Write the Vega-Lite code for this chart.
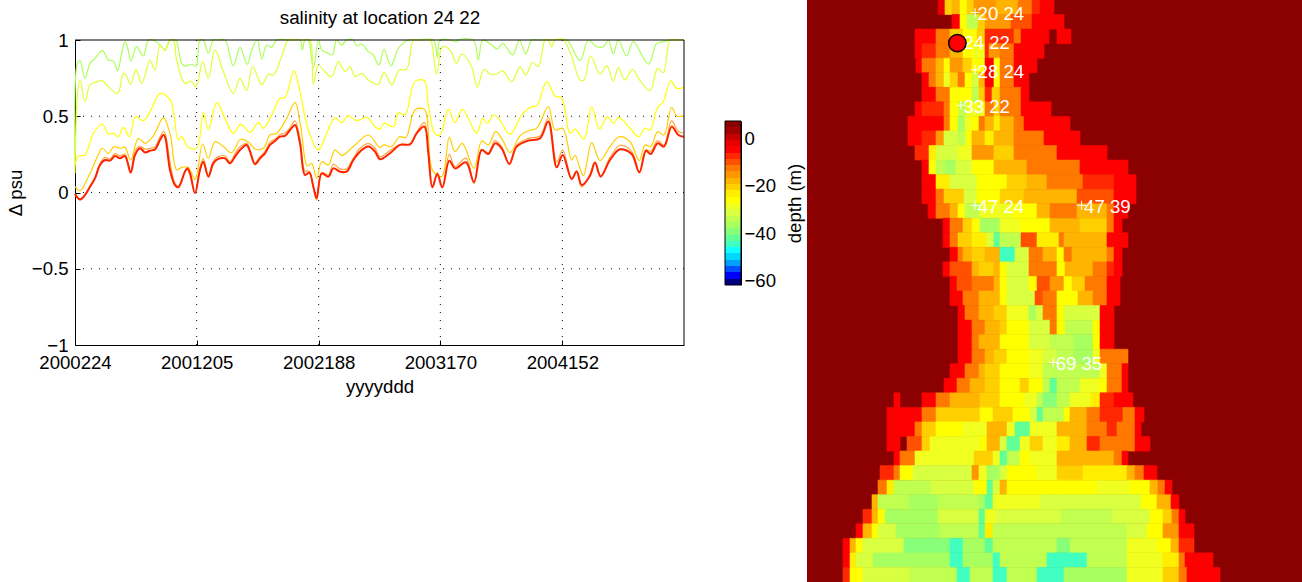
{"$schema":"https://vega.github.io/schema/vega-lite/v6.json","width":1302,"height":582,"padding":0,"autosize":"none","background":"white","view":{"stroke":null},
"config":{"font":"Liberation Sans","axis":{"labelFont":"Liberation Sans","titleFont":"Liberation Sans","labelFontSize":18.6,"titleFontSize":18.6,"titleFontWeight":"normal","labelColor":"black","titleColor":"black","domainColor":"black","tickColor":"black","grid":false},"title":{"font":"Liberation Sans"}},
"title":{"text":"salinity at location 24 22","anchor":"middle","frame":"group","dx":-271,"dy":32,"fontSize":18.8,"fontWeight":"normal","color":"black"},
"resolve":{"scale":{"x":"independent","y":"independent"},"axis":{"x":"independent","y":"independent"}},
"datasets":{
"grid":[{"t":365,"v":-1,"v2":1},{"t":731,"v":-1,"v2":1},{"t":1096,"v":-1,"v2":1},{"t":1462,"v":-1,"v2":1},{"t":0,"t2":1827,"v":0.5},{"t":0,"t2":1827,"v":0},{"t":0,"t2":1827,"v":-0.5}],
"frame":[{"t":0,"t2":1827,"v":1},{"t":1827,"v":-1,"v2":1}],
"L1":[{"t":0,"v":0.191},{"t":7,"v":0.847},{"t":15,"v":0.865},{"t":30,"v":0.749},{"t":45,"v":0.847},{"t":60,"v":0.88},{"t":82,"v":0.93},{"t":100,"v":0.869},{"t":115,"v":0.862},{"t":128,"v":0.799},{"t":140,"v":0.913},{"t":150,"v":0.989},{"t":157,"v":0.956},{"t":168,"v":0.862},{"t":185,"v":0.956},{"t":205,"v":0.895},{"t":220,"v":1},{"t":235,"v":1.04},{"t":255,"v":0.967},{"t":270,"v":0.935},{"t":285,"v":1.01},{"t":295,"v":1.01},{"t":303,"v":1},{"t":320,"v":0.847},{"t":330,"v":0.83},{"t":350,"v":0.841},{"t":363,"v":0.83},{"t":375,"v":1},{"t":385,"v":1.02},{"t":400,"v":0.913},{"t":415,"v":1},{"t":430,"v":1.03},{"t":450,"v":1},{"t":475,"v":0.83},{"t":495,"v":0.952},{"t":517,"v":0.841},{"t":530,"v":0.935},{"t":547,"v":1},{"t":560,"v":0.874},{"t":575,"v":0.967},{"t":590,"v":0.952},{"t":605,"v":1.01},{"t":640,"v":1.04},{"t":675,"v":1},{"t":682,"v":0.935},{"t":690,"v":1},{"t":700,"v":1},{"t":715,"v":0.814},{"t":730,"v":1},{"t":740,"v":0.935},{"t":757,"v":0.917},{"t":772,"v":0.902},{"t":785,"v":1},{"t":800,"v":0.967},{"t":815,"v":1},{"t":835,"v":1},{"t":845,"v":0.961},{"t":860,"v":0.974},{"t":880,"v":0.924},{"t":895,"v":0.902},{"t":910,"v":0.836},{"t":915,"v":0.847},{"t":927,"v":0.939},{"t":948,"v":0.83},{"t":970,"v":0.945},{"t":1000,"v":1},{"t":1030,"v":1.04},{"t":1075,"v":1},{"t":1087,"v":0.887},{"t":1095,"v":1},{"t":1125,"v":1.03},{"t":1145,"v":0.989},{"t":1150,"v":1},{"t":1195,"v":1},{"t":1210,"v":0.869},{"t":1223,"v":1},{"t":1250,"v":0.967},{"t":1267,"v":0.941},{"t":1283,"v":0.978},{"t":1313,"v":0.902},{"t":1333,"v":1},{"t":1352,"v":0.908},{"t":1370,"v":1},{"t":1385,"v":1},{"t":1410,"v":1.03},{"t":1430,"v":1.03},{"t":1475,"v":1},{"t":1515,"v":0.865},{"t":1540,"v":1},{"t":1565,"v":0.956},{"t":1585,"v":0.956},{"t":1600,"v":1},{"t":1615,"v":0.908},{"t":1630,"v":1},{"t":1655,"v":0.895},{"t":1675,"v":0.989},{"t":1720,"v":0.841},{"t":1745,"v":0.978},{"t":1765,"v":0.989},{"t":1785,"v":1.04},{"t":1827,"v":1.04}],
"L2":[{"t":0,"v":0.126},{"t":7,"v":0.628},{"t":15,"v":0.738},{"t":30,"v":0.596},{"t":45,"v":0.705},{"t":60,"v":0.722},{"t":82,"v":0.733},{"t":100,"v":0.694},{"t":128,"v":0.65},{"t":145,"v":0.781},{"t":153,"v":0.77},{"t":167,"v":0.709},{"t":183,"v":0.808},{"t":200,"v":0.716},{"t":225,"v":0.865},{"t":240,"v":0.803},{"t":255,"v":0.967},{"t":270,"v":0.93},{"t":285,"v":1.02},{"t":295,"v":1.02},{"t":305,"v":0.869},{"t":330,"v":0.716},{"t":347,"v":0.731},{"t":363,"v":0.694},{"t":383,"v":0.858},{"t":400,"v":0.749},{"t":420,"v":0.935},{"t":445,"v":0.793},{"t":475,"v":0.65},{"t":495,"v":0.749},{"t":515,"v":0.668},{"t":533,"v":0.825},{"t":560,"v":0.709},{"t":580,"v":0.775},{"t":595,"v":0.77},{"t":620,"v":0.891},{"t":640,"v":1},{"t":660,"v":1.04},{"t":690,"v":1.03},{"t":705,"v":1},{"t":715,"v":0.709},{"t":730,"v":0.836},{"t":745,"v":0.803},{"t":770,"v":0.76},{"t":790,"v":0.858},{"t":810,"v":0.793},{"t":825,"v":0.825},{"t":840,"v":0.76},{"t":860,"v":0.781},{"t":880,"v":0.738},{"t":910,"v":0.709},{"t":915,"v":0.727},{"t":928,"v":0.788},{"t":950,"v":0.705},{"t":973,"v":0.803},{"t":995,"v":0.808},{"t":1015,"v":1},{"t":1030,"v":1.04},{"t":1060,"v":1.04},{"t":1067,"v":1},{"t":1085,"v":0.775},{"t":1102,"v":0.956},{"t":1125,"v":0.935},{"t":1145,"v":0.847},{"t":1160,"v":0.908},{"t":1190,"v":0.825},{"t":1207,"v":0.69},{"t":1227,"v":0.808},{"t":1245,"v":0.777},{"t":1265,"v":0.777},{"t":1283,"v":0.797},{"t":1310,"v":0.727},{"t":1335,"v":0.825},{"t":1352,"v":0.77},{"t":1373,"v":0.854},{"t":1390,"v":0.825},{"t":1410,"v":1},{"t":1420,"v":1},{"t":1430,"v":0.956},{"t":1440,"v":1},{"t":1465,"v":1},{"t":1490,"v":0.891},{"t":1515,"v":0.738},{"t":1527,"v":0.738},{"t":1547,"v":0.895},{"t":1575,"v":0.775},{"t":1595,"v":0.83},{"t":1615,"v":0.731},{"t":1630,"v":0.819},{"t":1650,"v":0.738},{"t":1672,"v":0.808},{"t":1695,"v":0.733},{"t":1725,"v":0.668},{"t":1748,"v":0.814},{"t":1765,"v":0.786},{"t":1785,"v":1},{"t":1800,"v":1.04},{"t":1827,"v":1.04}],
"L3":[{"t":0,"v":0.18},{"t":10,"v":0.239},{"t":30,"v":0.246},{"t":55,"v":0.388},{"t":82,"v":0.449},{"t":100,"v":0.384},{"t":115,"v":0.388},{"t":130,"v":0.366},{"t":145,"v":0.427},{"t":163,"v":0.366},{"t":182,"v":0.497},{"t":205,"v":0.471},{"t":230,"v":0.552},{"t":255,"v":0.65},{"t":285,"v":0.611},{"t":310,"v":0.344},{"t":320,"v":0.366},{"t":340,"v":0.296},{"t":365,"v":0.29},{"t":385,"v":0.524},{"t":400,"v":0.41},{"t":425,"v":0.589},{"t":450,"v":0.486},{"t":475,"v":0.388},{"t":497,"v":0.447},{"t":525,"v":0.395},{"t":550,"v":0.458},{"t":565,"v":0.421},{"t":590,"v":0.508},{"t":615,"v":0.618},{"t":630,"v":0.622},{"t":657,"v":0.797},{"t":675,"v":0.661},{"t":700,"v":0.41},{"t":730,"v":0.279},{"t":755,"v":0.388},{"t":780,"v":0.491},{"t":800,"v":0.458},{"t":820,"v":0.502},{"t":845,"v":0.471},{"t":875,"v":0.493},{"t":900,"v":0.432},{"t":915,"v":0.416},{"t":927,"v":0.454},{"t":955,"v":0.432},{"t":970,"v":0.524},{"t":990,"v":0.508},{"t":1020,"v":0.727},{"t":1048,"v":0.733},{"t":1060,"v":0.574},{"t":1080,"v":0.384},{"t":1095,"v":0.377},{"t":1120,"v":0.545},{"t":1140,"v":0.458},{"t":1162,"v":0.545},{"t":1205,"v":0.388},{"t":1223,"v":0.486},{"t":1237,"v":0.454},{"t":1255,"v":0.508},{"t":1273,"v":0.48},{"t":1305,"v":0.381},{"t":1340,"v":0.508},{"t":1370,"v":0.563},{"t":1385,"v":0.567},{"t":1415,"v":0.727},{"t":1440,"v":0.633},{"t":1460,"v":0.618},{"t":1485,"v":0.388},{"t":1500,"v":0.416},{"t":1527,"v":0.351},{"t":1550,"v":0.563},{"t":1573,"v":0.416},{"t":1597,"v":0.497},{"t":1615,"v":0.454},{"t":1632,"v":0.493},{"t":1665,"v":0.421},{"t":1690,"v":0.366},{"t":1710,"v":0.421},{"t":1725,"v":0.41},{"t":1748,"v":0.559},{"t":1765,"v":0.596},{"t":1787,"v":0.733},{"t":1805,"v":0.683},{"t":1827,"v":0.69}],
"L4":[{"t":0,"v":0.038},{"t":15,"v":0.012},{"t":45,"v":0.126},{"t":65,"v":0.224},{"t":82,"v":0.29},{"t":100,"v":0.257},{"t":117,"v":0.301},{"t":135,"v":0.29},{"t":150,"v":0.296},{"t":167,"v":0.213},{"t":190,"v":0.355},{"t":210,"v":0.322},{"t":235,"v":0.371},{"t":265,"v":0.489},{"t":285,"v":0.388},{"t":305,"v":0.148},{"t":320,"v":0.165},{"t":340,"v":0.165},{"t":360,"v":0.086},{"t":383,"v":0.318},{"t":400,"v":0.224},{"t":420,"v":0.333},{"t":445,"v":0.301},{"t":470,"v":0.261},{"t":497,"v":0.349},{"t":525,"v":0.322},{"t":540,"v":0.285},{"t":565,"v":0.29},{"t":585,"v":0.377},{"t":605,"v":0.388},{"t":635,"v":0.486},{"t":660,"v":0.591},{"t":677,"v":0.432},{"t":697,"v":0.174},{"t":710,"v":0.191},{"t":725,"v":0.093},{"t":740,"v":0.202},{"t":760,"v":0.18},{"t":780,"v":0.279},{"t":800,"v":0.244},{"t":835,"v":0.301},{"t":880,"v":0.377},{"t":915,"v":0.296},{"t":927,"v":0.312},{"t":950,"v":0.301},{"t":973,"v":0.366},{"t":993,"v":0.362},{"t":1020,"v":0.541},{"t":1048,"v":0.545},{"t":1072,"v":0.148},{"t":1100,"v":0.104},{"t":1123,"v":0.362},{"t":1140,"v":0.268},{"t":1162,"v":0.322},{"t":1197,"v":0.158},{"t":1220,"v":0.338},{"t":1240,"v":0.312},{"t":1262,"v":0.399},{"t":1283,"v":0.344},{"t":1305,"v":0.261},{"t":1335,"v":0.371},{"t":1360,"v":0.405},{"t":1385,"v":0.421},{"t":1420,"v":0.563},{"t":1440,"v":0.41},{"t":1463,"v":0.421},{"t":1490,"v":0.213},{"t":1500,"v":0.246},{"t":1525,"v":0.11},{"t":1550,"v":0.327},{"t":1575,"v":0.209},{"t":1605,"v":0.301},{"t":1633,"v":0.366},{"t":1665,"v":0.333},{"t":1693,"v":0.209},{"t":1710,"v":0.312},{"t":1727,"v":0.301},{"t":1748,"v":0.399},{"t":1767,"v":0.377},{"t":1790,"v":0.559},{"t":1805,"v":0.502},{"t":1827,"v":0.502}],
"L5":[{"t":0,"v":-0.012},{"t":15,"v":-0.05},{"t":30,"v":-0.02},{"t":45,"v":0.04},{"t":60,"v":0.1},{"t":75,"v":0.19},{"t":90,"v":0.23},{"t":105,"v":0.22},{"t":120,"v":0.255},{"t":135,"v":0.24},{"t":150,"v":0.252},{"t":167,"v":0.135},{"t":180,"v":0.27},{"t":195,"v":0.305},{"t":210,"v":0.285},{"t":225,"v":0.29},{"t":240,"v":0.3},{"t":255,"v":0.365},{"t":265,"v":0.4},{"t":270,"v":0.39},{"t":285,"v":0.2},{"t":300,"v":0.06},{"t":310,"v":0.04},{"t":330,"v":0.14},{"t":337,"v":0.165},{"t":345,"v":0.13},{"t":360,"v":-0.005},{"t":375,"v":0.165},{"t":385,"v":0.22},{"t":400,"v":0.11},{"t":415,"v":0.205},{"t":430,"v":0.235},{"t":450,"v":0.24},{"t":465,"v":0.2},{"t":480,"v":0.255},{"t":495,"v":0.3},{"t":515,"v":0.322},{"t":525,"v":0.28},{"t":540,"v":0.195},{"t":555,"v":0.235},{"t":570,"v":0.27},{"t":585,"v":0.33},{"t":600,"v":0.35},{"t":615,"v":0.38},{"t":630,"v":0.39},{"t":645,"v":0.425},{"t":660,"v":0.47},{"t":675,"v":0.35},{"t":690,"v":0.14},{"t":703,"v":0.14},{"t":715,"v":0.03},{"t":725,"v":-0.05},{"t":740,"v":0.13},{"t":760,"v":0.115},{"t":775,"v":0.185},{"t":795,"v":0.155},{"t":815,"v":0.155},{"t":835,"v":0.225},{"t":855,"v":0.29},{"t":880,"v":0.32},{"t":900,"v":0.29},{"t":915,"v":0.235},{"t":945,"v":0.275},{"t":975,"v":0.315},{"t":1005,"v":0.32},{"t":1025,"v":0.395},{"t":1048,"v":0.46},{"t":1060,"v":0.29},{"t":1072,"v":0.04},{"t":1087,"v":0.13},{"t":1102,"v":0.03},{"t":1123,"v":0.25},{"t":1140,"v":0.17},{"t":1173,"v":0.225},{"t":1197,"v":0.06},{"t":1220,"v":0.28},{"t":1240,"v":0.26},{"t":1260,"v":0.34},{"t":1280,"v":0.3},{"t":1303,"v":0.19},{"t":1325,"v":0.31},{"t":1360,"v":0.355},{"t":1395,"v":0.37},{"t":1420,"v":0.49},{"t":1445,"v":0.2},{"t":1463,"v":0.28},{"t":1490,"v":0.09},{"t":1505,"v":0.14},{"t":1520,"v":0.035},{"t":1545,"v":0.12},{"t":1560,"v":0.2},{"t":1577,"v":0.11},{"t":1605,"v":0.23},{"t":1635,"v":0.31},{"t":1670,"v":0.27},{"t":1693,"v":0.13},{"t":1713,"v":0.28},{"t":1727,"v":0.27},{"t":1748,"v":0.34},{"t":1767,"v":0.31},{"t":1790,"v":0.47},{"t":1810,"v":0.4},{"t":1827,"v":0.39}],
"L7":[{"t":0,"v":-0.01},{"t":15,"v":-0.045},{"t":30,"v":-0.016},{"t":45,"v":0.038},{"t":60,"v":0.093},{"t":75,"v":0.18},{"t":90,"v":0.213},{"t":105,"v":0.209},{"t":120,"v":0.239},{"t":135,"v":0.224},{"t":150,"v":0.239},{"t":167,"v":0.13},{"t":180,"v":0.246},{"t":195,"v":0.29},{"t":210,"v":0.263},{"t":225,"v":0.274},{"t":240,"v":0.283},{"t":255,"v":0.344},{"t":265,"v":0.377},{"t":270,"v":0.366},{"t":285,"v":0.148},{"t":300,"v":0.049},{"t":310,"v":0.034},{"t":330,"v":0.137},{"t":337,"v":0.158},{"t":345,"v":0.126},{"t":360,"v":-0.005},{"t":375,"v":0.148},{"t":385,"v":0.202},{"t":400,"v":0.104},{"t":415,"v":0.191},{"t":430,"v":0.22},{"t":450,"v":0.224},{"t":465,"v":0.191},{"t":480,"v":0.235},{"t":495,"v":0.279},{"t":515,"v":0.312},{"t":525,"v":0.268},{"t":540,"v":0.185},{"t":555,"v":0.224},{"t":570,"v":0.257},{"t":585,"v":0.312},{"t":600,"v":0.338},{"t":615,"v":0.366},{"t":630,"v":0.371},{"t":645,"v":0.41},{"t":660,"v":0.443},{"t":675,"v":0.322},{"t":690,"v":0.115},{"t":703,"v":0.13},{"t":715,"v":0.038},{"t":725,"v":-0.038},{"t":740,"v":0.126},{"t":760,"v":0.104},{"t":775,"v":0.158},{"t":795,"v":0.137},{"t":815,"v":0.137},{"t":835,"v":0.213},{"t":855,"v":0.268},{"t":880,"v":0.301},{"t":900,"v":0.268},{"t":915,"v":0.218},{"t":945,"v":0.257},{"t":975,"v":0.312},{"t":1005,"v":0.316},{"t":1025,"v":0.388},{"t":1048,"v":0.432},{"t":1060,"v":0.257},{"t":1072,"v":0.034},{"t":1087,"v":0.121},{"t":1102,"v":0.034},{"t":1123,"v":0.209},{"t":1140,"v":0.158},{"t":1173,"v":0.198},{"t":1197,"v":0.067},{"t":1220,"v":0.279},{"t":1240,"v":0.252},{"t":1260,"v":0.322},{"t":1280,"v":0.29},{"t":1303,"v":0.187},{"t":1325,"v":0.301},{"t":1360,"v":0.34},{"t":1395,"v":0.355},{"t":1420,"v":0.465},{"t":1445,"v":0.165},{"t":1463,"v":0.246},{"t":1490,"v":0.089},{"t":1505,"v":0.137},{"t":1520,"v":0.049},{"t":1545,"v":0.11},{"t":1560,"v":0.196},{"t":1577,"v":0.104},{"t":1605,"v":0.213},{"t":1635,"v":0.283},{"t":1670,"v":0.252},{"t":1693,"v":0.132},{"t":1713,"v":0.274},{"t":1727,"v":0.252},{"t":1748,"v":0.322},{"t":1767,"v":0.301},{"t":1790,"v":0.432},{"t":1810,"v":0.377},{"t":1827,"v":0.366}],
"bar":[{"a":0,"b":1,"d0":-62,"d1":-59.35,"d":-60.7},{"a":0,"b":1,"d0":-59.35,"d1":-56.69,"d":-58},{"a":0,"b":1,"d0":-56.69,"d1":-54.04,"d":-55.4},{"a":0,"b":1,"d0":-54.04,"d1":-51.38,"d":-52.7},{"a":0,"b":1,"d0":-51.38,"d1":-48.73,"d":-50},{"a":0,"b":1,"d0":-48.73,"d1":-46.08,"d":-47.4},{"a":0,"b":1,"d0":-46.08,"d1":-43.42,"d":-44.8},{"a":0,"b":1,"d0":-43.42,"d1":-40.77,"d":-42.1},{"a":0,"b":1,"d0":-40.77,"d1":-38.12,"d":-39.4},{"a":0,"b":1,"d0":-38.12,"d1":-35.46,"d":-36.8},{"a":0,"b":1,"d0":-35.46,"d1":-32.81,"d":-34.1},{"a":0,"b":1,"d0":-32.81,"d1":-30.15,"d":-31.5},{"a":0,"b":1,"d0":-30.15,"d1":-27.5,"d":-28.8},{"a":0,"b":1,"d0":-27.5,"d1":-24.85,"d":-26.2},{"a":0,"b":1,"d0":-24.85,"d1":-22.19,"d":-23.5},{"a":0,"b":1,"d0":-22.19,"d1":-19.54,"d":-20.9},{"a":0,"b":1,"d0":-19.54,"d1":-16.88,"d":-18.2},{"a":0,"b":1,"d0":-16.88,"d1":-14.23,"d":-15.6},{"a":0,"b":1,"d0":-14.23,"d1":-11.58,"d":-12.9},{"a":0,"b":1,"d0":-11.58,"d1":-8.92,"d":-10.2},{"a":0,"b":1,"d0":-8.92,"d1":-6.27,"d":-7.6},{"a":0,"b":1,"d0":-6.27,"d1":-3.62,"d":-4.9},{"a":0,"b":1,"d0":-3.62,"d1":-0.96,"d":-2.3},{"a":0,"b":1,"d0":-0.96,"d1":1.69,"d":0.4},{"a":0,"b":1,"d0":1.69,"d1":4.35,"d":3},{"a":0,"b":1,"d0":4.35,"d1":7,"d":5.7}],
"barframe":[{"a":0,"b":1,"d0":-62,"d1":7}],
"labels":[{"i":20,"j":24,"label":"20 24"},{"i":24,"j":22,"label":"24 22"},{"i":28,"j":24,"label":"28 24"},{"i":33,"j":22,"label":"33 22"},{"i":47,"j":24,"label":"47 24"},{"i":47,"j":39,"label":"47 39"},{"i":69,"j":35,"label":"69 35"}],
"site":[{"i":24.3,"j":21.5}],
"land":[{"a":0,"b":68.08,"d":5.7}],
"cells":[
{"r":0,"a":18,"b":19,"d":-3},{"r":0,"a":19,"b":20,"d":-21},{"r":0,"a":20,"b":21,"d":-18},{"r":0,"a":21,"b":22,"d":-26},{"r":0,"a":22,"b":23,"d":-21},{"r":0,"a":23,"b":26,"d":-16},{"r":0,"a":26,"b":29,"d":-18},{"r":0,"a":29,"b":31,"d":-13},{"r":0,"a":31,"b":32,"d":-8},{"r":0,"a":32,"b":34,"d":-4},
{"r":1,"a":20,"b":21,"d":-4},{"r":1,"a":21,"b":22,"d":-26},{"r":1,"a":22,"b":23.5,"d":-33},{"r":1,"a":23.5,"b":24.5,"d":-21},{"r":1,"a":24.5,"b":28,"d":-15},{"r":1,"a":28,"b":31,"d":-10},{"r":1,"a":31,"b":35.3,"d":-5},
{"r":2,"a":14.8,"b":17.8,"d":-5},{"r":2,"a":17.8,"b":19.7,"d":-12},{"r":2,"a":19.7,"b":21.5,"d":-21},{"r":2,"a":21.5,"b":23.4,"d":-26},{"r":2,"a":23.4,"b":24.5,"d":-21},{"r":2,"a":24.5,"b":28.5,"d":-8},{"r":2,"a":28.5,"b":29.5,"d":-12},{"r":2,"a":29.5,"b":33.3,"d":-6},{"r":2,"a":34.4,"b":36.3,"d":-5},
{"r":3,"a":14.8,"b":15.8,"d":-5},{"r":3,"a":15.8,"b":17.8,"d":-8},{"r":3,"a":17.8,"b":19.7,"d":-13},{"r":3,"a":19.7,"b":21.5,"d":-19},{"r":3,"a":21.5,"b":23,"d":-26},{"r":3,"a":23,"b":24.5,"d":-29},{"r":3,"a":24.5,"b":25,"d":-8},{"r":3,"a":25,"b":26.5,"d":-15},{"r":3,"a":26.5,"b":28.5,"d":-13},{"r":3,"a":28.5,"b":32.6,"d":-6},
{"r":4,"a":15,"b":15.8,"d":-5},{"r":4,"a":15.8,"b":17.8,"d":-13},{"r":4,"a":17.8,"b":18.8,"d":-19},{"r":4,"a":18.8,"b":19.7,"d":-26},{"r":4,"a":19.7,"b":21.5,"d":-16},{"r":4,"a":21.5,"b":22.7,"d":-21},{"r":4,"a":22.7,"b":24.5,"d":-27},{"r":4,"a":24.5,"b":25.7,"d":-6},{"r":4,"a":25.7,"b":26.6,"d":-26},{"r":4,"a":26.6,"b":28.5,"d":-14},{"r":4,"a":28.5,"b":31.6,"d":-6},
{"r":5,"a":15.8,"b":16.8,"d":-5},{"r":5,"a":16.8,"b":17.8,"d":-12},{"r":5,"a":17.8,"b":18.8,"d":-17},{"r":5,"a":18.8,"b":19.7,"d":-30},{"r":5,"a":19.7,"b":20.7,"d":-21},{"r":5,"a":20.7,"b":21.7,"d":-14},{"r":5,"a":21.7,"b":22.7,"d":-26},{"r":5,"a":22.7,"b":23.6,"d":-31},{"r":5,"a":23.6,"b":24.5,"d":-19},{"r":5,"a":24.5,"b":25.7,"d":-6},{"r":5,"a":25.7,"b":26.6,"d":-26},{"r":5,"a":26.6,"b":28.5,"d":-13},{"r":5,"a":28.5,"b":30.5,"d":-6},
{"r":6,"a":15.8,"b":17.8,"d":-5},{"r":6,"a":17.8,"b":19.7,"d":-13},{"r":6,"a":19.7,"b":22.7,"d":-26},{"r":6,"a":22.7,"b":23.6,"d":-33},{"r":6,"a":23.6,"b":24.5,"d":-20},{"r":6,"a":24.5,"b":25.5,"d":-8},{"r":6,"a":25.5,"b":26.6,"d":-21},{"r":6,"a":26.6,"b":29.4,"d":-13},{"r":6,"a":29.4,"b":30.5,"d":-6},
{"r":7,"a":14.8,"b":15.8,"d":-4},{"r":7,"a":15.8,"b":18.8,"d":-7},{"r":7,"a":18.8,"b":19.7,"d":-12},{"r":7,"a":19.7,"b":20.9,"d":-27},{"r":7,"a":20.9,"b":21.8,"d":-35},{"r":7,"a":21.8,"b":24.5,"d":-28},{"r":7,"a":24.5,"b":25.7,"d":-13},{"r":7,"a":25.7,"b":26.6,"d":-22},{"r":7,"a":26.6,"b":29.4,"d":-13},{"r":7,"a":29.4,"b":33.5,"d":-5},
{"r":8,"a":13.9,"b":18.8,"d":-5},{"r":8,"a":18.8,"b":19.7,"d":-12},{"r":8,"a":19.7,"b":20.7,"d":-27},{"r":8,"a":20.7,"b":21.7,"d":-37},{"r":8,"a":21.7,"b":22.7,"d":-30},{"r":8,"a":22.7,"b":23.6,"d":-26},{"r":8,"a":23.6,"b":24.5,"d":-14},{"r":8,"a":24.5,"b":25.7,"d":-19},{"r":8,"a":25.7,"b":26.6,"d":-24},{"r":8,"a":26.6,"b":28.5,"d":-18},{"r":8,"a":28.5,"b":29.8,"d":-12},{"r":8,"a":29.8,"b":36.2,"d":-5},
{"r":9,"a":13.9,"b":15.8,"d":-5},{"r":9,"a":15.8,"b":17.8,"d":-8},{"r":9,"a":17.8,"b":18.8,"d":-16},{"r":9,"a":18.8,"b":20.7,"d":-31},{"r":9,"a":20.7,"b":21.8,"d":-35},{"r":9,"a":21.8,"b":22.7,"d":-27},{"r":9,"a":22.7,"b":24.5,"d":-19},{"r":9,"a":24.5,"b":25.7,"d":-23},{"r":9,"a":25.7,"b":28.5,"d":-18},{"r":9,"a":28.5,"b":32.6,"d":-13},{"r":9,"a":32.6,"b":37.6,"d":-5},
{"r":10,"a":14.8,"b":16.8,"d":-7},{"r":10,"a":16.8,"b":17.8,"d":-24},{"r":10,"a":17.8,"b":20.7,"d":-32},{"r":10,"a":20.7,"b":22.7,"d":-30},{"r":10,"a":22.7,"b":25.7,"d":-15},{"r":10,"a":25.7,"b":28.5,"d":-20},{"r":10,"a":28.5,"b":34.4,"d":-13},{"r":10,"a":34.4,"b":41.3,"d":-5},
{"r":11,"a":15.8,"b":16.8,"d":-5},{"r":11,"a":16.8,"b":17.8,"d":-25},{"r":11,"a":17.8,"b":19,"d":-33},{"r":11,"a":19,"b":20.5,"d":-36},{"r":11,"a":20.5,"b":22.7,"d":-32},{"r":11,"a":22.7,"b":25.7,"d":-26},{"r":11,"a":25.7,"b":30.3,"d":-19},{"r":11,"a":30.3,"b":37.6,"d":-13},{"r":11,"a":37.6,"b":44.2,"d":-6},
{"r":12,"a":15.8,"b":17.8,"d":-5},{"r":12,"a":17.8,"b":19.7,"d":-24},{"r":12,"a":19.7,"b":23.4,"d":-32},{"r":12,"a":23.4,"b":27.5,"d":-26},{"r":12,"a":27.5,"b":30.3,"d":-21},{"r":12,"a":30.3,"b":33,"d":-18},{"r":12,"a":33,"b":38,"d":-12},{"r":12,"a":38,"b":42.2,"d":-7},{"r":12,"a":42.2,"b":45.2,"d":-5},
{"r":13,"a":15.8,"b":17.8,"d":-5},{"r":13,"a":17.8,"b":18.8,"d":-14},{"r":13,"a":18.8,"b":21.6,"d":-20},{"r":13,"a":21.6,"b":23.4,"d":-32},{"r":13,"a":23.4,"b":26.6,"d":-27},{"r":13,"a":26.6,"b":29.8,"d":-21},{"r":13,"a":29.8,"b":37.2,"d":-17},{"r":13,"a":37.2,"b":42.2,"d":-11},{"r":13,"a":42.2,"b":45.2,"d":-5},
{"r":14,"a":16.7,"b":17.8,"d":-5},{"r":14,"a":17.8,"b":19.7,"d":-14},{"r":14,"a":19.7,"b":20.8,"d":-19},{"r":14,"a":20.8,"b":21.7,"d":-26},{"r":14,"a":21.7,"b":23.8,"d":-33},{"r":14,"a":23.8,"b":28.4,"d":-30},{"r":14,"a":28.4,"b":31.6,"d":-25},{"r":14,"a":31.6,"b":33.4,"d":-18},{"r":14,"a":33.4,"b":37.1,"d":-13},{"r":14,"a":37.1,"b":41.2,"d":-19},{"r":14,"a":41.2,"b":42.2,"d":-13},{"r":14,"a":42.2,"b":44.2,"d":-5},
{"r":15,"a":18.7,"b":19.7,"d":-5},{"r":15,"a":19.7,"b":21.5,"d":-13},{"r":15,"a":21.5,"b":22.7,"d":-20},{"r":15,"a":22.7,"b":23.8,"d":-26},{"r":15,"a":23.8,"b":26.6,"d":-36},{"r":15,"a":26.6,"b":29.5,"d":-30},{"r":15,"a":29.5,"b":33.4,"d":-25},{"r":15,"a":33.4,"b":37.6,"d":-17},{"r":15,"a":37.6,"b":41.2,"d":-21},{"r":15,"a":41.2,"b":42.2,"d":-12},{"r":15,"a":42.2,"b":43.3,"d":-5},
{"r":16,"a":18.7,"b":19.7,"d":-5},{"r":16,"a":19.7,"b":20.7,"d":-13},{"r":16,"a":20.7,"b":22.7,"d":-20},{"r":16,"a":22.7,"b":24.7,"d":-23},{"r":16,"a":24.7,"b":25.7,"d":-32},{"r":16,"a":25.7,"b":26.6,"d":-42},{"r":16,"a":26.6,"b":29.5,"d":-33},{"r":16,"a":29.5,"b":31.6,"d":-9},{"r":16,"a":31.6,"b":34.6,"d":-24},{"r":16,"a":34.6,"b":35.3,"d":-14},{"r":16,"a":35.3,"b":41.2,"d":-17},{"r":16,"a":41.2,"b":44.2,"d":-6},
{"r":17,"a":19.7,"b":20.7,"d":-5},{"r":17,"a":20.7,"b":21.5,"d":-13},{"r":17,"a":21.5,"b":22.7,"d":-18},{"r":17,"a":22.7,"b":24.5,"d":-22},{"r":17,"a":24.5,"b":26.6,"d":-18},{"r":17,"a":26.6,"b":28.6,"d":-44},{"r":17,"a":28.6,"b":30.5,"d":-32},{"r":17,"a":30.5,"b":32.5,"d":-12},{"r":17,"a":32.5,"b":34.4,"d":-18},{"r":17,"a":34.4,"b":35.3,"d":-26},{"r":17,"a":35.3,"b":36.4,"d":-13},{"r":17,"a":36.4,"b":41.2,"d":-17},{"r":17,"a":41.2,"b":42.2,"d":-12},{"r":17,"a":42.2,"b":43.3,"d":-5},
{"r":18,"a":18.7,"b":19.7,"d":-5},{"r":18,"a":19.7,"b":22.7,"d":-9},{"r":18,"a":22.7,"b":23.6,"d":-17},{"r":18,"a":23.6,"b":25.7,"d":-22},{"r":18,"a":25.7,"b":26.6,"d":-17},{"r":18,"a":26.6,"b":27.5,"d":-26},{"r":18,"a":27.5,"b":30.5,"d":-32},{"r":18,"a":30.5,"b":33.4,"d":-12},{"r":18,"a":33.4,"b":34.4,"d":-14},{"r":18,"a":34.4,"b":35.5,"d":-26},{"r":18,"a":35.5,"b":39.4,"d":-17},{"r":18,"a":39.4,"b":41.2,"d":-13},{"r":18,"a":41.2,"b":42.2,"d":-8},{"r":18,"a":42.2,"b":43.3,"d":-5},
{"r":19,"a":19.7,"b":20.6,"d":-5},{"r":19,"a":20.6,"b":22.7,"d":-9},{"r":19,"a":22.7,"b":25.7,"d":-14},{"r":19,"a":25.7,"b":26.6,"d":-19},{"r":19,"a":26.6,"b":27.5,"d":-26},{"r":19,"a":27.5,"b":30.5,"d":-31},{"r":19,"a":30.5,"b":31.6,"d":-26},{"r":19,"a":31.6,"b":33.4,"d":-11},{"r":19,"a":33.4,"b":35.3,"d":-15},{"r":19,"a":35.3,"b":36.4,"d":-26},{"r":19,"a":36.4,"b":38.3,"d":-21},{"r":19,"a":38.3,"b":41.2,"d":-14},{"r":19,"a":41.2,"b":43.1,"d":-5},
{"r":20,"a":19.7,"b":21.5,"d":-6},{"r":20,"a":21.5,"b":23.6,"d":-12},{"r":20,"a":23.6,"b":26.6,"d":-18},{"r":20,"a":26.6,"b":27.5,"d":-25},{"r":20,"a":27.5,"b":31.4,"d":-31},{"r":20,"a":31.4,"b":32.5,"d":-9},{"r":20,"a":32.5,"b":34.4,"d":-13},{"r":20,"a":34.4,"b":37.3,"d":-26},{"r":20,"a":37.3,"b":39.4,"d":-19},{"r":20,"a":39.4,"b":41.2,"d":-14},{"r":20,"a":41.2,"b":43.1,"d":-6},
{"r":21,"a":20.7,"b":21.7,"d":-5},{"r":21,"a":21.7,"b":23.6,"d":-12},{"r":21,"a":23.6,"b":25.7,"d":-18},{"r":21,"a":25.7,"b":27.5,"d":-22},{"r":21,"a":27.5,"b":30.5,"d":-30},{"r":21,"a":30.5,"b":31.5,"d":-38},{"r":21,"a":31.5,"b":32.5,"d":-31},{"r":21,"a":32.5,"b":34.4,"d":-14},{"r":21,"a":34.4,"b":35.3,"d":-25},{"r":21,"a":35.3,"b":40.3,"d":-32},{"r":21,"a":40.3,"b":42.2,"d":-5},
{"r":22,"a":20.7,"b":22.7,"d":-6},{"r":22,"a":22.7,"b":24.5,"d":-13},{"r":22,"a":24.5,"b":26.6,"d":-18},{"r":22,"a":26.6,"b":27.5,"d":-22},{"r":22,"a":27.5,"b":30.5,"d":-27},{"r":22,"a":30.5,"b":33.4,"d":-31},{"r":22,"a":33.4,"b":34.4,"d":-14},{"r":22,"a":34.4,"b":35.5,"d":-25},{"r":22,"a":35.5,"b":39.4,"d":-35},{"r":22,"a":39.4,"b":40.3,"d":-26},{"r":22,"a":40.3,"b":42.2,"d":-5},
{"r":23,"a":20.7,"b":22.7,"d":-6},{"r":23,"a":22.7,"b":23.6,"d":-13},{"r":23,"a":23.6,"b":26.6,"d":-18},{"r":23,"a":26.6,"b":30.5,"d":-26},{"r":23,"a":30.5,"b":33.4,"d":-31},{"r":23,"a":33.4,"b":36.7,"d":-33},{"r":23,"a":36.7,"b":39.4,"d":-36},{"r":23,"a":39.4,"b":40.3,"d":-27},{"r":23,"a":40.3,"b":42.2,"d":-6},
{"r":24,"a":20.7,"b":22.7,"d":-5},{"r":24,"a":22.7,"b":24.5,"d":-13},{"r":24,"a":24.5,"b":25.7,"d":-19},{"r":24,"a":25.7,"b":27.5,"d":-22},{"r":24,"a":27.5,"b":30.5,"d":-26},{"r":24,"a":30.5,"b":32.5,"d":-30},{"r":24,"a":32.5,"b":34.4,"d":-32},{"r":24,"a":34.4,"b":36.7,"d":-35},{"r":24,"a":36.7,"b":39.4,"d":-38},{"r":24,"a":39.4,"b":40.3,"d":-30},{"r":24,"a":40.3,"b":44.2,"d":-13},
{"r":25,"a":19.7,"b":21.7,"d":-5},{"r":25,"a":21.7,"b":23.6,"d":-12},{"r":25,"a":23.6,"b":24.5,"d":-18},{"r":25,"a":24.5,"b":26.6,"d":-22},{"r":25,"a":26.6,"b":30.5,"d":-26},{"r":25,"a":30.5,"b":32.5,"d":-30},{"r":25,"a":32.5,"b":36.7,"d":-34},{"r":25,"a":36.7,"b":40.3,"d":-33},{"r":25,"a":40.3,"b":41.2,"d":-28},{"r":25,"a":41.2,"b":43.3,"d":-12},{"r":25,"a":43.3,"b":44.2,"d":-5},
{"r":26,"a":18.8,"b":20.6,"d":-5},{"r":26,"a":20.6,"b":22.4,"d":-12},{"r":26,"a":22.4,"b":24.5,"d":-18},{"r":26,"a":24.5,"b":26.6,"d":-22},{"r":26,"a":26.6,"b":29.3,"d":-26},{"r":26,"a":29.3,"b":30.5,"d":-22},{"r":26,"a":30.5,"b":32.5,"d":-26},{"r":26,"a":32.5,"b":33.4,"d":-33},{"r":26,"a":33.4,"b":34.4,"d":-41},{"r":26,"a":34.4,"b":37.6,"d":-35},{"r":26,"a":37.6,"b":40.3,"d":-30},{"r":26,"a":40.3,"b":41.2,"d":-26},{"r":26,"a":41.2,"b":43.3,"d":-12},{"r":26,"a":43.3,"b":44.2,"d":-5},
{"r":27,"a":11.9,"b":12.8,"d":-4},{"r":27,"a":15.8,"b":17.8,"d":-5},{"r":27,"a":17.8,"b":19.7,"d":-13},{"r":27,"a":19.7,"b":23.8,"d":-18},{"r":27,"a":23.8,"b":26.6,"d":-22},{"r":27,"a":26.6,"b":29.8,"d":-25},{"r":27,"a":29.8,"b":31.6,"d":-29},{"r":27,"a":31.6,"b":32.5,"d":-33},{"r":27,"a":32.5,"b":34.4,"d":-40},{"r":27,"a":34.4,"b":36.2,"d":-35},{"r":27,"a":36.2,"b":39,"d":-30},{"r":27,"a":39,"b":40.3,"d":-24},{"r":27,"a":40.3,"b":42.2,"d":-7},{"r":27,"a":42.2,"b":44.9,"d":-4},
{"r":28,"a":11,"b":15.8,"d":-4},{"r":28,"a":15.8,"b":17.8,"d":-13},{"r":28,"a":17.8,"b":23.8,"d":-20},{"r":28,"a":23.8,"b":25.6,"d":-26},{"r":28,"a":25.6,"b":28.4,"d":-21},{"r":28,"a":28.4,"b":30.7,"d":-27},{"r":28,"a":30.7,"b":31.6,"d":-32},{"r":28,"a":31.6,"b":32.5,"d":-42},{"r":28,"a":32.5,"b":35.3,"d":-33},{"r":28,"a":35.3,"b":36.2,"d":-27},{"r":28,"a":36.2,"b":38.5,"d":-18},{"r":28,"a":38.5,"b":40.3,"d":-12},{"r":28,"a":40.3,"b":43.5,"d":-7},{"r":28,"a":43.5,"b":45.1,"d":-13},{"r":28,"a":45.1,"b":46.3,"d":-6},
{"r":29,"a":11,"b":14.9,"d":-4},{"r":29,"a":14.9,"b":15.8,"d":-12},{"r":29,"a":15.8,"b":17.8,"d":-20},{"r":29,"a":17.8,"b":21.5,"d":-26},{"r":29,"a":21.5,"b":24.7,"d":-28},{"r":29,"a":24.7,"b":27.5,"d":-19},{"r":29,"a":27.5,"b":28.6,"d":-30},{"r":29,"a":28.6,"b":30.7,"d":-41},{"r":29,"a":30.7,"b":34.4,"d":-30},{"r":29,"a":34.4,"b":38.5,"d":-18},{"r":29,"a":38.5,"b":41.2,"d":-13},{"r":29,"a":41.2,"b":42.6,"d":-7},{"r":29,"a":42.6,"b":45.1,"d":-13},{"r":29,"a":45.1,"b":46,"d":-5},
{"r":30,"a":11,"b":12.8,"d":-4},{"r":30,"a":13.7,"b":15.8,"d":-11},{"r":30,"a":15.8,"b":16.9,"d":-20},{"r":30,"a":16.9,"b":23.8,"d":-28},{"r":30,"a":23.8,"b":24.7,"d":-26},{"r":30,"a":24.7,"b":26.6,"d":-19},{"r":30,"a":26.6,"b":27.5,"d":-31},{"r":30,"a":27.5,"b":29.3,"d":-42},{"r":30,"a":29.3,"b":30.7,"d":-30},{"r":30,"a":30.7,"b":32.5,"d":-22},{"r":30,"a":32.5,"b":34.4,"d":-30},{"r":30,"a":34.4,"b":36.2,"d":-24},{"r":30,"a":36.2,"b":38.5,"d":-18},{"r":30,"a":38.5,"b":40.3,"d":-8},{"r":30,"a":40.3,"b":45.1,"d":-14},{"r":30,"a":45.1,"b":47.2,"d":-5},
{"r":31,"a":11.9,"b":12.8,"d":-5},{"r":31,"a":12.8,"b":14.9,"d":-13},{"r":31,"a":14.9,"b":22.9,"d":-28},{"r":31,"a":22.9,"b":25.6,"d":-20},{"r":31,"a":25.6,"b":26.6,"d":-30},{"r":31,"a":26.6,"b":27.5,"d":-41},{"r":31,"a":27.5,"b":29.3,"d":-34},{"r":31,"a":29.3,"b":30.7,"d":-26},{"r":31,"a":30.7,"b":34.4,"d":-30},{"r":31,"a":34.4,"b":42.2,"d":-19},{"r":31,"a":42.2,"b":43.3,"d":-14},{"r":31,"a":43.3,"b":44.2,"d":-4},
{"r":32,"a":10,"b":11.9,"d":-8},{"r":32,"a":11.9,"b":12.8,"d":-14},{"r":32,"a":12.8,"b":14.6,"d":-26},{"r":32,"a":14.6,"b":22.7,"d":-31},{"r":32,"a":22.7,"b":23.6,"d":-16},{"r":32,"a":23.6,"b":24.7,"d":-29},{"r":32,"a":24.7,"b":26.6,"d":-36},{"r":32,"a":26.6,"b":27.5,"d":-31},{"r":32,"a":27.5,"b":31.6,"d":-26},{"r":32,"a":31.6,"b":34.4,"d":-30},{"r":32,"a":34.4,"b":38,"d":-21},{"r":32,"a":38,"b":44,"d":-24},{"r":32,"a":44,"b":45.1,"d":-19},{"r":32,"a":45.1,"b":46.3,"d":-13},{"r":32,"a":46.3,"b":48.1,"d":-5},
{"r":33,"a":9.8,"b":11,"d":-14},{"r":33,"a":11,"b":11.9,"d":-24},{"r":33,"a":11.9,"b":17,"d":-33},{"r":33,"a":17,"b":22.9,"d":-31},{"r":33,"a":22.9,"b":24.7,"d":-27},{"r":33,"a":24.7,"b":25.6,"d":-41},{"r":33,"a":25.6,"b":26.6,"d":-31},{"r":33,"a":26.6,"b":27.5,"d":-19},{"r":33,"a":27.5,"b":34.8,"d":-26},{"r":33,"a":34.8,"b":39.9,"d":-25},{"r":33,"a":39.9,"b":44.4,"d":-30},{"r":33,"a":44.4,"b":47.2,"d":-26},{"r":33,"a":47.2,"b":48.3,"d":-19},{"r":33,"a":48.3,"b":49.3,"d":-12},{"r":33,"a":49.3,"b":50.2,"d":-5},
{"r":34,"a":8.9,"b":9.8,"d":-18},{"r":34,"a":9.8,"b":14,"d":-33},{"r":34,"a":14,"b":18,"d":-36},{"r":34,"a":18,"b":23.6,"d":-33},{"r":34,"a":23.6,"b":24.5,"d":-38},{"r":34,"a":24.5,"b":25.6,"d":-42},{"r":34,"a":25.6,"b":32,"d":-30},{"r":34,"a":32,"b":40,"d":-32},{"r":34,"a":40,"b":46,"d":-31},{"r":34,"a":46,"b":48.1,"d":-27},{"r":34,"a":48.1,"b":50,"d":-19},{"r":34,"a":50,"b":51.1,"d":-5},
{"r":35,"a":7.75,"b":8.9,"d":-8},{"r":35,"a":8.9,"b":9.8,"d":-17},{"r":35,"a":9.8,"b":10.7,"d":-26},{"r":35,"a":10.7,"b":18,"d":-36},{"r":35,"a":18,"b":23.6,"d":-32},{"r":35,"a":23.6,"b":24.5,"d":-42},{"r":35,"a":24.5,"b":26,"d":-30},{"r":35,"a":26,"b":35,"d":-31},{"r":35,"a":35,"b":42,"d":-34},{"r":35,"a":42,"b":47.2,"d":-32},{"r":35,"a":47.2,"b":49,"d":-26},{"r":35,"a":49,"b":50.2,"d":-20},{"r":35,"a":50.2,"b":51.1,"d":-13},{"r":35,"a":51.1,"b":52,"d":-5},
{"r":36,"a":6.8,"b":7.75,"d":-6},{"r":36,"a":7.75,"b":8.9,"d":-18},{"r":36,"a":8.9,"b":9.8,"d":-26},{"r":36,"a":9.8,"b":12.3,"d":-32},{"r":36,"a":12.3,"b":18.3,"d":-37},{"r":36,"a":18.3,"b":23.6,"d":-33},{"r":36,"a":23.6,"b":24.5,"d":-43},{"r":36,"a":24.5,"b":25.6,"d":-23},{"r":36,"a":25.6,"b":35,"d":-33},{"r":36,"a":35,"b":44,"d":-34},{"r":36,"a":44,"b":46.7,"d":-32},{"r":36,"a":46.7,"b":49,"d":-26},{"r":36,"a":49,"b":51.1,"d":-16},{"r":36,"a":51.1,"b":53.2,"d":-5},
{"r":37,"a":5,"b":5.9,"d":-6},{"r":37,"a":5.9,"b":6.8,"d":-19},{"r":37,"a":6.8,"b":7.75,"d":-26},{"r":37,"a":7.75,"b":13.3,"d":-32},{"r":37,"a":13.3,"b":19.7,"d":-40},{"r":37,"a":19.7,"b":21.5,"d":-44},{"r":37,"a":21.5,"b":24.5,"d":-37},{"r":37,"a":24.5,"b":25.6,"d":-43},{"r":37,"a":25.6,"b":34.4,"d":-34},{"r":37,"a":34.4,"b":36.2,"d":-40},{"r":37,"a":36.2,"b":44,"d":-34},{"r":37,"a":44,"b":48.1,"d":-30},{"r":37,"a":48.1,"b":50,"d":-26},{"r":37,"a":50,"b":51.1,"d":-17},{"r":37,"a":51.1,"b":53.2,"d":-7},
{"r":38,"a":4.9,"b":5.9,"d":-6},{"r":38,"a":5.9,"b":6.8,"d":-24},{"r":38,"a":6.8,"b":9.1,"d":-31},{"r":38,"a":9.1,"b":19.7,"d":-37},{"r":38,"a":19.7,"b":21.5,"d":-46},{"r":38,"a":21.5,"b":25.6,"d":-36},{"r":38,"a":25.6,"b":26.6,"d":-44},{"r":38,"a":26.6,"b":33,"d":-33},{"r":38,"a":33,"b":38.5,"d":-44},{"r":38,"a":38.5,"b":44,"d":-34},{"r":38,"a":44,"b":49,"d":-30},{"r":38,"a":49,"b":51.1,"d":-24},{"r":38,"a":51.1,"b":52,"d":-14},{"r":38,"a":52,"b":55.9,"d":-5},
{"r":39,"a":4.9,"b":5.9,"d":-7},{"r":39,"a":5.9,"b":7.75,"d":-26},{"r":39,"a":7.75,"b":14.2,"d":-31},{"r":39,"a":14.2,"b":20.6,"d":-35},{"r":39,"a":20.6,"b":22.4,"d":-44},{"r":39,"a":22.4,"b":25.6,"d":-34},{"r":39,"a":25.6,"b":27.5,"d":-44},{"r":39,"a":27.5,"b":31.6,"d":-33},{"r":39,"a":31.6,"b":35.3,"d":-46},{"r":39,"a":35.3,"b":44,"d":-36},{"r":39,"a":44,"b":49,"d":-30},{"r":39,"a":49,"b":51.1,"d":-20},{"r":39,"a":51.1,"b":52.2,"d":-13},{"r":39,"a":52.2,"b":56.8,"d":-5}
]
},
"layer":[
{"encoding":{"x":{"field":"t","type":"quantitative","scale":{"domain":[0,1827],"range":[75,684],"nice":false,"zero":false},"axis":{"orient":"bottom","offset":-237,"title":"yyyyddd","values":[0,365,731,1096,1462],"labelExpr":"['2000224','2001205','2002188','2003170','2004152'][indexof([0,365,731,1096,1462],datum.value)]","tickSize":-5,"labelPadding":13,"titlePadding":6,"labelOverlap":false,"labelFlush":false}},"y":{"field":"v","type":"quantitative","scale":{"domain":[-1,1],"range":[345,40],"nice":false,"zero":false,"clamp":true},"axis":{"orient":"left","offset":-75,"title":"Δ psu","values":[-1,-0.5,0,0.5,1],"format":".1~f","tickSize":-5,"labelPadding":12,"titlePadding":6}}},
"layer":[
{"data":{"name":"grid"},"mark":{"type":"rule","stroke":"black","strokeWidth":1,"strokeDash":[1,7]},"encoding":{"x2":{"field":"t2"},"y2":{"field":"v2"}}},
{"data":{"name":"L1"},"mark":{"type":"line","stroke":"#adff5a","strokeWidth":1.2,"interpolate":"catmull-rom"}},
{"data":{"name":"L2"},"mark":{"type":"line","stroke":"#e2ff33","strokeWidth":1.2,"interpolate":"catmull-rom"}},
{"data":{"name":"L3"},"mark":{"type":"line","stroke":"#ffff00","strokeWidth":1.2,"interpolate":"catmull-rom"}},
{"data":{"name":"L4"},"mark":{"type":"line","stroke":"#ffcf00","strokeWidth":1.2,"interpolate":"catmull-rom"}},
{"data":{"name":"L5"},"mark":{"type":"line","stroke":"#ffa63c","strokeWidth":1.2,"interpolate":"catmull-rom"}},
{"data":{"name":"L7"},"mark":{"type":"line","stroke":"#ff2400","strokeWidth":2,"interpolate":"catmull-rom"}},
{"data":{"name":"frame"},"mark":{"type":"rule","stroke":"black","strokeWidth":1},"encoding":{"x2":{"field":"t2"},"y2":{"field":"v2"}}}
]},
{"encoding":{"x":{"field":"a","type":"quantitative","axis":null,"scale":{"domain":[0,1],"range":[725,741],"nice":false,"zero":false}},"x2":{"field":"b"},"y":{"field":"d0","type":"quantitative","scale":{"domain":[-62,7],"range":[285,121],"nice":false,"zero":false,"round":true},"axis":{"orient":"right","offset":-561,"title":"depth (m)","titleAngle":270,"values":[0,-20,-40,-60],"format":"d","tickSize":-3,"labelPadding":6,"titlePadding":29}},"y2":{"field":"d1"}},
"layer":[
{"data":{"name":"bar"},"mark":{"type":"rect"},"encoding":{"color":{"field":"d","type":"quantitative","legend":null,"scale":{"type":"quantize","domain":[-62,7],"range":["#000080","#0000ff","#0050ff","#00a0ff","#00d8ff","#10ffff","#40ffc0","#60ff98","#88ff78","#a8ff60","#c0ff50","#d8ff40","#f0ff20","#ffff00","#ffee00","#ffd000","#ffb400","#ff9800","#ff7800","#ff5000","#ff2800","#ff0000","#e80000","#c80000","#a00000","#8b0000"]}}}},
{"data":{"name":"barframe"},"mark":{"type":"rect","fillOpacity":0,"stroke":"black","strokeWidth":1}}
]},
{"encoding":{"x":{"field":"a","type":"quantitative","axis":null,"scale":{"domain":[0,68.08],"range":[807,1302],"nice":false,"zero":false,"round":true}},"x2":{"field":"b"},"color":{"field":"d","type":"quantitative","legend":null,"scale":{"type":"quantize","domain":[-62,7],"range":["#000080","#0000ff","#0050ff","#00a0ff","#00d8ff","#10ffff","#40ffc0","#60ff98","#88ff78","#a8ff60","#c0ff50","#d8ff40","#f0ff20","#ffff00","#ffee00","#ffd000","#ffb400","#ff9800","#ff7800","#ff5000","#ff2800","#ff0000","#e80000","#c80000","#a00000","#8b0000"]}}},
"layer":[
{"data":{"name":"land"},"mark":{"type":"rect"}},
{"data":{"name":"cells"},"mark":{"type":"rect","strokeWidth":0.6},"encoding":{"y":{"field":"r","type":"ordinal","axis":null,"scale":{"paddingInner":0,"paddingOuter":0,"round":false}},"stroke":{"field":"d","type":"quantitative","legend":null,"scale":{"type":"quantize","domain":[-62,7],"range":["#000080","#0000ff","#0050ff","#00a0ff","#00d8ff","#10ffff","#40ffc0","#60ff98","#88ff78","#a8ff60","#c0ff50","#d8ff40","#f0ff20","#ffff00","#ffee00","#ffd000","#ffb400","#ff9800","#ff7800","#ff5000","#ff2800","#ff0000","#e80000","#c80000","#a00000","#8b0000"]}}}}
]},
{"encoding":{"x":{"field":"j","type":"quantitative","axis":null,"scale":{"domain":[0.31,70.07],"range":[807,1302],"nice":false,"zero":false}},"y":{"field":"i","type":"quantitative","axis":null,"scale":{"domain":[18.25,99.75],"range":[0,582],"nice":false,"zero":false}}},
"layer":[
{"data":{"name":"labels"},"mark":{"type":"point","shape":"M-1,0L1,0M0,-1L0,1","stroke":"white","strokeWidth":1,"size":81,"opacity":1}},
{"data":{"name":"labels"},"mark":{"type":"text","color":"white","font":"Liberation Sans","fontSize":18.6,"align":"left","baseline":"middle","dx":2.5,"dy":2},"encoding":{"text":{"field":"label"}}},
{"data":{"name":"site"},"mark":{"type":"point","filled":true,"fill":"#ff0000","stroke":"black","strokeWidth":1.5,"size":300,"opacity":1,"shape":"circle"}}
]}
]}
